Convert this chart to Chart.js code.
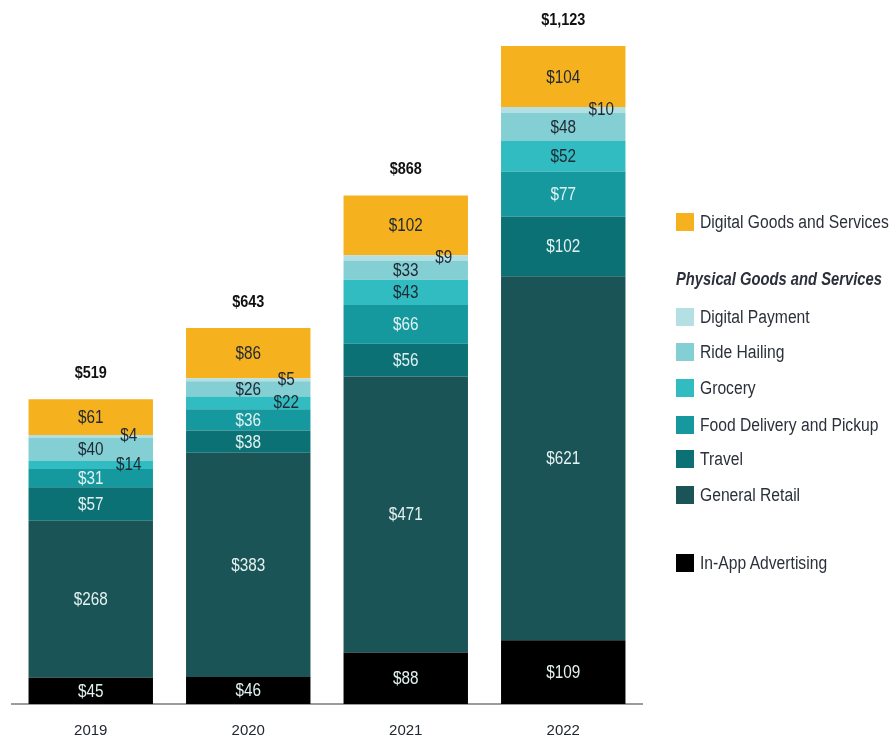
<!DOCTYPE html>
<html>
<head>
<meta charset="utf-8">
<script src="https://cdn.jsdelivr.net/npm/chart.js@4/dist/chart.umd.min.js"></script>
<style>
  body { margin: 0; background: #fff; }
  #wrap { position: relative; width: 894px; height: 740px; }
  #legend { position: absolute; left: 0; top: 0; font-family: "Liberation Sans", Arial, sans-serif; font-size: 18px; color: #2b303a; }
  .row { position: absolute; left: 676px; height: 20px; line-height: 20px; white-space: nowrap; }
  .row i { position: absolute; left: 0; top: 1px; width: 18px; height: 18px; }
  .row span { position: absolute; left: 24px; top: 0; transform: scaleX(0.87); transform-origin: left center; }
  .head { position: absolute; left: 676px; font-style: italic; font-weight: bold; white-space: nowrap; line-height: 20px; transform: scaleX(0.82); transform-origin: left center; }
</style>
</head>
<body>
<div id="wrap">
  <canvas id="c" width="894" height="740"></canvas>
  <div id="legend"></div>
</div>
<script>
// ── DATA ─────────────────────────────────────────────────
const YEARS           = ['2019', '2020', '2021', '2022'];
const IN_APP          = [45, 46, 88, 109];
const GENERAL_RETAIL  = [268, 383, 471, 621];
const TRAVEL          = [57, 38, 56, 102];
const FOOD_DELIVERY   = [31, 36, 66, 77];
const GROCERY         = [14, 22, 43, 52];
const RIDE_HAILING    = [40, 26, 33, 48];
const DIGITAL_PAYMENT = [4, 5, 9, 10];
const DIGITAL_GOODS   = [61, 86, 102, 104];
const TOTALS          = [519, 643, 868, 1123];

const FONT = '"Liberation Sans", Arial, sans-serif';
const DARK = '#1f2833';
const LIGHT = '#e3f1f1';
const SQUEEZE = 0.85; // condensed look

// bottom → top stacking order
const SERIES = [
  { label: 'In-App Advertising',       data: IN_APP,          color: '#000000', text: LIGHT },
  { label: 'General Retail',           data: GENERAL_RETAIL,  color: '#1b5456', text: LIGHT },
  { label: 'Travel',                   data: TRAVEL,          color: '#0b7174', text: LIGHT },
  { label: 'Food Delivery and Pickup', data: FOOD_DELIVERY,   color: '#16999e', text: LIGHT },
  { label: 'Grocery',                  data: GROCERY,         color: '#31bcc2', text: DARK },
  { label: 'Ride Hailing',             data: RIDE_HAILING,    color: '#83cfd4', text: DARK },
  { label: 'Digital Payment',          data: DIGITAL_PAYMENT, color: '#b4e0e3', text: DARK },
  { label: 'Digital Goods and Services', data: DIGITAL_GOODS, color: '#f5b11e', text: DARK },
];

function squeezedText(ctx, text, x, y, font, color) {
  ctx.save();
  ctx.translate(x, y);
  ctx.scale(SQUEEZE, 1);
  ctx.font = font;
  ctx.fillStyle = color;
  ctx.fillText(text, 0, 0);
  ctx.restore();
}

// ── VALUE LABELS ─────────────────────────────────────────
const labelPlugin = {
  id: 'valueLabels',
  afterDatasetsDraw(chart) {
    const ctx = chart.ctx;
    ctx.save();
    ctx.textAlign = 'center';
    ctx.textBaseline = 'middle';
    chart.data.datasets.forEach((ds, di) => {
      const meta = chart.getDatasetMeta(di);
      meta.data.forEach((bar, i) => {
        const v = ds.data[i];
        const y = (bar.y + bar.base) / 2;
        if (v < 25) {
          squeezedText(ctx, '$' + v, bar.x + 38, y, '18px ' + FONT, DARK);
        } else {
          squeezedText(ctx, '$' + v, bar.x, y + 1, '18px ' + FONT, SERIES[di].text);
        }
      });
    });
    // totals
    const top = chart.getDatasetMeta(chart.data.datasets.length - 1);
    top.data.forEach((bar, i) => {
      squeezedText(ctx, '$' + TOTALS[i].toLocaleString('en-US'), bar.x, bar.y - 26, 'bold 17px ' + FONT, '#111');
    });
    ctx.restore();
  },
};

new Chart(document.getElementById('c').getContext('2d'), {
  type: 'bar',
  data: {
    labels: YEARS,
    datasets: SERIES.map(s => ({
      label: s.label,
      data: s.data,
      backgroundColor: s.color,
      borderWidth: 0,
      categoryPercentage: 1,
      barPercentage: 0.79,
    })),
  },
  options: {
    responsive: false,
    animation: false,
    devicePixelRatio: 1,
    layout: { padding: { left: 12, right: 252, top: 1, bottom: -18 } },
    plugins: { legend: { display: false }, tooltip: { enabled: false } },
    scales: {
      x: {
        stacked: true,
        grid: { display: false, drawTicks: false },
        border: { display: true, color: '#9c9c9c', width: 2 },
        ticks: { color: '#222831', padding: 18, font: { family: FONT, size: 15 } },
      },
      y: { stacked: true, display: false, min: 0, max: 1200 },
    },
  },
  plugins: [labelPlugin],
});

// ── LEGEND (html) ────────────────────────────────────────
const LEGEND_ROWS = [
  { i: 7, y: 212 },
  { head: 'Physical Goods and Services', y: 269 },
  { i: 6, y: 307 },
  { i: 5, y: 342 },
  { i: 4, y: 378 },
  { i: 3, y: 415 },
  { i: 2, y: 449 },
  { i: 1, y: 485 },
  { i: 0, y: 553 },
];
const legend = document.getElementById('legend');
LEGEND_ROWS.forEach(r => {
  const el = document.createElement('div');
  if (r.head) {
    el.className = 'head';
    el.textContent = r.head;
  } else {
    el.className = 'row';
    el.innerHTML = `<i style="background:${SERIES[r.i].color}"></i><span>${SERIES[r.i].label}</span>`;
  }
  el.style.top = r.y + 'px';
  legend.appendChild(el);
});
</script>
</body>
</html>
